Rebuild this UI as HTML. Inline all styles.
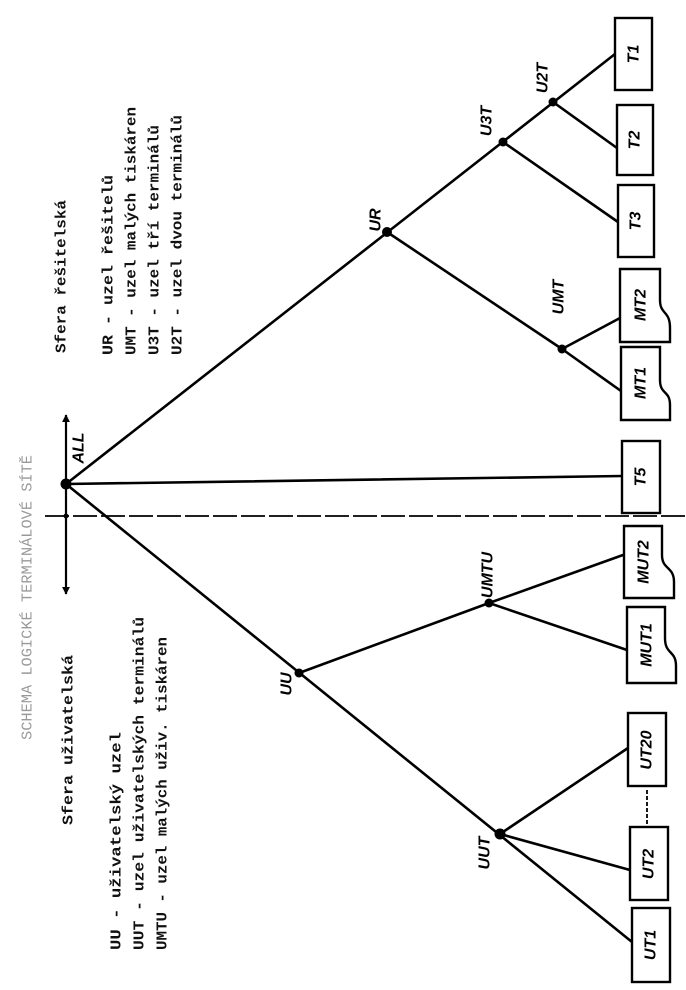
<!DOCTYPE html>
<html><head><meta charset="utf-8"><style>
html,body{margin:0;padding:0;background:#fff;}
svg{display:block;}
.m{font-family:"Liberation Mono",monospace;font-weight:bold;font-size:15px;fill:#111;}
.n{font-family:"Liberation Sans",sans-serif;font-weight:bold;font-style:italic;font-size:16px;fill:#000;}
</style></head><body>
<svg width="686" height="990" viewBox="0 0 686 990" xmlns="http://www.w3.org/2000/svg">
<defs>
<marker id="ar" viewBox="0 0 10 10" refX="9" refY="5" markerWidth="8" markerHeight="10" orient="auto" markerUnits="userSpaceOnUse">
<path d="M0,0 L10,5 L0,10 z" fill="#000"/></marker>
</defs>
<g stroke="#000" stroke-width="2.6" fill="none" stroke-linecap="round">
<line x1="66" y1="484" x2="615" y2="54"/>
<line x1="66" y1="484" x2="622" y2="476"/>
<line x1="66" y1="484" x2="632" y2="942"/>
<line x1="387" y1="232" x2="562" y2="349"/>
<line x1="562" y1="349" x2="621" y2="391"/>
<line x1="562" y1="349" x2="620" y2="318"/>
<line x1="503" y1="142" x2="618" y2="222"/>
<line x1="553" y1="102" x2="617" y2="148"/>
<line x1="299" y1="673" x2="489" y2="603"/>
<line x1="489" y1="603" x2="623" y2="555"/>
<line x1="489" y1="603" x2="627" y2="650"/>
<line x1="500" y1="834" x2="628" y2="748"/>
<line x1="500" y1="834" x2="630" y2="870"/>
</g>
<g stroke="#000" stroke-width="2.2" fill="none">
<line x1="66" y1="500" x2="66" y2="415" marker-end="url(#ar)"/>
<line x1="66" y1="500" x2="66" y2="594" marker-end="url(#ar)"/>
<line x1="45" y1="516" x2="686" y2="516" stroke-dasharray="24,4" stroke-width="1.8"/>
<line x1="647" y1="790" x2="647" y2="826" stroke-dasharray="4,2" stroke-width="1.8"/>
</g>
<g fill="#000">
<circle cx="66" cy="484" r="5.5"/><circle cx="66" cy="516" r="2.5"/>
<circle cx="387" cy="232" r="5"/><circle cx="503" cy="142" r="4.5"/>
<circle cx="553" cy="102" r="4.5"/><circle cx="562" cy="349" r="4.5"/>
<circle cx="299" cy="673" r="4.5"/><circle cx="489" cy="603" r="4.5"/>
<circle cx="500" cy="834" r="5.5"/>
</g>
<g stroke="#000" stroke-width="2.4" fill="#fff">
<rect x="615" y="18" width="37" height="72"/>
<rect x="617" y="105" width="36" height="70"/>
<rect x="618" y="185" width="36" height="72"/>
<rect x="622" y="441" width="38" height="72"/>
<rect x="628" y="713" width="38" height="73"/>
<rect x="630" y="827" width="38" height="73"/>
<rect x="632" y="908" width="38" height="74"/>
<path d="M620,269 H660 V300 C660,315 670,310 670,328 V342 H620 Z"/>
<path d="M621,347 H660 V380 C660,395 670,390 670,405 V420 H621 Z"/>
<path d="M624,526 H662 V555 C662,570 674,566 674,582 V598 H624 Z"/>
<path d="M627,607 H665 V638 C665,655 676,650 676,666 V683 H627 Z"/>
</g>
<g class="n" text-anchor="middle" dominant-baseline="central">
<text transform="translate(634,54) rotate(-90)">T1</text>
<text transform="translate(635,140) rotate(-90)">T2</text>
<text transform="translate(636,221) rotate(-90)">T3</text>
<text transform="translate(641,305) rotate(-90)">MT2</text>
<text transform="translate(641,383) rotate(-90)">MT1</text>
<text transform="translate(641,477) rotate(-90)">T5</text>
<text transform="translate(644,562) rotate(-90)">MUT2</text>
<text transform="translate(647,645) rotate(-90)">MUT1</text>
<text transform="translate(647,750) rotate(-90)">UT20</text>
<text transform="translate(649,864) rotate(-90)">UT2</text>
<text transform="translate(651,945) rotate(-90)">UT1</text>
<text transform="translate(79,448) rotate(-90)">ALL</text>
<text transform="translate(376,220) rotate(-90)">UR</text>
<text transform="translate(487,121) rotate(-90)">U3T</text>
<text transform="translate(543,78) rotate(-90)">U2T</text>
<text transform="translate(559,297) rotate(-90)">UMT</text>
<text transform="translate(488,575) rotate(-90)">UMTU</text>
<text transform="translate(287,684) rotate(-90)">UU</text>
<text transform="translate(485,853) rotate(-90)">UUT</text>
</g>
<g class="m" dominant-baseline="central">
<text transform="translate(28,740) rotate(-90)" textLength="285" lengthAdjust="spacingAndGlyphs" style="fill:#999;font-weight:normal">SCHEMA LOGICKÉ TERMINÁLOVÉ SÍTĚ</text>
<text transform="translate(62,353) rotate(-90)" textLength="153" lengthAdjust="spacingAndGlyphs">Sfera řešitelská</text>
<text transform="translate(109,355) rotate(-90)" textLength="180" lengthAdjust="spacingAndGlyphs">UR  - uzel řešitelů</text>
<text transform="translate(132,355) rotate(-90)" textLength="248" lengthAdjust="spacingAndGlyphs">UMT - uzel malých tiskáren</text>
<text transform="translate(155,355) rotate(-90)" textLength="230" lengthAdjust="spacingAndGlyphs">U3T - uzel tří terminálů</text>
<text transform="translate(178,355) rotate(-90)" textLength="240" lengthAdjust="spacingAndGlyphs">U2T - uzel dvou terminálů</text>
<text transform="translate(69,825) rotate(-90)" textLength="170" lengthAdjust="spacingAndGlyphs">Sfera uživatelská</text>
<text transform="translate(117,950) rotate(-90)" textLength="218" lengthAdjust="spacingAndGlyphs">UU   - uživatelský uzel</text>
<text transform="translate(140,950) rotate(-90)" textLength="333" lengthAdjust="spacingAndGlyphs">UUT  - uzel uživatelských terminálů</text>
<text transform="translate(163,950) rotate(-90)" textLength="313" lengthAdjust="spacingAndGlyphs">UMTU - uzel malých uživ. tiskáren</text>
</g>
</svg>
</body></html>
